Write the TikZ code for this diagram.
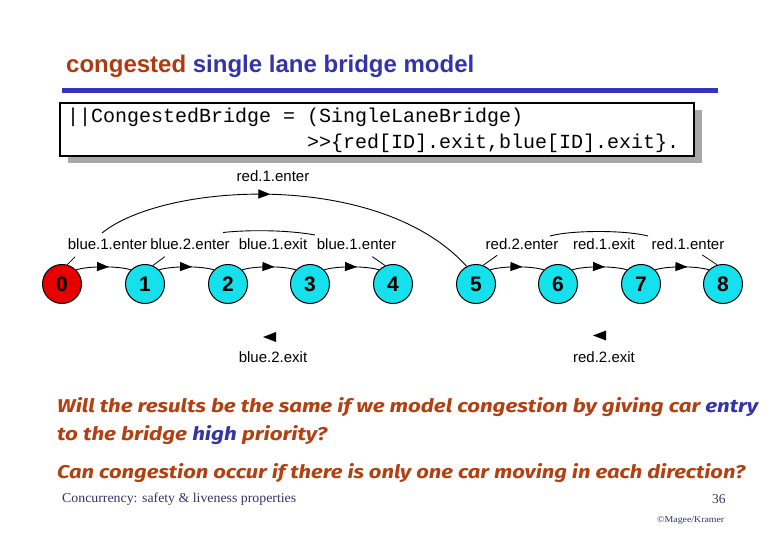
\documentclass[tikz,border=0pt]{standalone}
\usepackage{fontspec}
\usepackage{graphicx}
\setmainfont{Liberation Serif}
\newfontfamily\sansf{Liberation Sans}
\newfontfamily\monof{Liberation Mono}
\newfontfamily\comicf{Fira Sans}
\usetikzlibrary{arrows.meta,decorations.markings}
\definecolor{tred}{RGB}{176,58,16}
\definecolor{tblue}{RGB}{51,51,170}
\definecolor{lineblue}{RGB}{51,51,190}
\definecolor{qred}{RGB}{178,64,16}
\definecolor{foot}{RGB}{51,51,102}
\definecolor{stcyan}{RGB}{20,225,235}
\definecolor{stred}{RGB}{232,0,0}
\definecolor{shadowgray}{RGB}{168,168,168}
\begin{document}
\begin{tikzpicture}[x=1pt,y=-1pt,
  state/.style={circle, draw, line width=1pt, minimum size=39pt, inner sep=0pt, fill=stcyan,
    font=\sansf\bfseries\fontsize{21}{21}\selectfont},
  lbl/.style={font=\sansf\fontsize{15}{18}\selectfont, inner sep=0pt},
  trans/.style={line width=0.9pt, postaction={decorate},
    decoration={markings, mark=at position #1 with {\arrow{Triangle[length=12pt,width=9pt]}}}},
  trans/.default=0.6,
  leader/.style={line width=0.8pt},
  question/.style={font=\comicf\bfseries\itshape\fontsize{18.5}{22}\selectfont, text=qred, inner sep=0pt, anchor=base west},
  footer/.style={font=\fontsize{13.5}{16}\selectfont, text=foot, inner sep=0pt, anchor=base west}
]
\useasboundingbox (0,0) rectangle (780,540);

% title
\node[anchor=base west, inner sep=0pt, font=\sansf\bfseries\fontsize{24}{28}\selectfont] (title) at (66,73)
  {\textcolor{tred}{congested} \textcolor{tblue}{single lane bridge model}};
\fill[lineblue] (62,88) rectangle (718,93);

% code box
\fill[shadowgray] (68,110) rectangle (702,163);
\draw[line width=2pt, fill=white] (60,103) rectangle (694,156);
\node[anchor=base west, inner sep=0pt, font=\monof\fontsize{20}{24}\selectfont] (code1) at (67,123)
  {||CongestedBridge = (SingleLaneBridge)};
\node[anchor=base west, inner sep=0pt, font=\monof\fontsize{20}{24}\selectfont] (code2) at (307,149)
  {>>\{red[ID].exit,blue[ID].exit\}.};

% states
\node[state, fill=stred] (n0) at (62,284) {0};
\node[state] (n1) at (145,284) {1};
\node[state] (n2) at (228,284) {2};
\node[state] (n3) at (310,284) {3};
\node[state] (n4) at (393,284) {4};
\node[state] (n5) at (476,284) {5};
\node[state] (n6) at (558,284) {6};
\node[state] (n7) at (641,284) {7};
\node[state] (n8) at (723,284) {8};

% transitions between neighbours
\foreach \a/\b in {n0/n1,n1/n2,n2/n3,n3/n4,n5/n6,n6/n7,n7/n8}
  \draw[trans] (\a.45) .. controls +(12,-4) and +(-12,-4) .. (\b.135);

% big arc red.1.enter
\coordinate (arcstart) at (102,233);
\draw[trans=0.45] (arcstart) .. controls (165,182) and (380,170) .. (n5.118);

% arc fragments
\coordinate (f1a) at (223,232.5);
\coordinate (f1b) at (315,235);
\draw[line width=0.9pt] (f1a) .. controls (245,230) and (285,229.5) .. (f1b);
\coordinate (f2a) at (550,236);
\coordinate (f2b) at (648,236);
\draw[line width=0.9pt] (f2a) .. controls (572,230) and (625,230) .. (f2b);

% labels
\node[lbl] (l01) at (107.5,244) {blue.1.enter};
\node[lbl] (l12) at (190,244) {blue.2.enter};
\node[lbl] (l23) at (273,244) {blue.1.exit};
\node[lbl] (l34) at (356.5,244) {blue.1.enter};
\node[lbl] (l56) at (522,244) {red.2.enter};
\node[lbl] (l67) at (604,244) {red.1.exit};
\node[lbl] (l78) at (688,244) {red.1.enter};
\node[lbl] (ltop) at (273,176) {red.1.enter};
\node[lbl] (lb1) at (273,357) {blue.2.exit};
\node[lbl] (lb2) at (604,357) {red.2.exit};

% leader lines
\draw[leader] (n0.75) -- ++(8,-8);
\draw[leader] (n1.67) -- ++(12,-9);
\draw[leader] (n4.113) -- ++(-13,-9);
\draw[leader] (n5.69) -- ++(14,-10);
\draw[leader] (n8.107) -- ++(-15,-10);

% lone arrowheads
\fill (263,337) -- (276,332) -- (276,342) -- cycle;
\fill (593,335.5) -- (606,330.5) -- (606,340.5) -- cycle;

% questions
\node[question] (q1) at (57,413) {\resizebox{701pt}{\height}{Will the results be the same if we model congestion by giving car \textcolor{tblue}{entry}}};
\node[question] (q2) at (57,440) {\resizebox{270pt}{\height}{to the bridge \textcolor{tblue}{high} priority?}};
\node[question] (q3) at (57,478) {\resizebox{688pt}{\height}{Can congestion occur if there is only one car moving in each direction?}};

% footer
\node[footer] (f1) at (62,502) {\resizebox{234pt}{\height}{Concurrency: safety \& liveness properties}};
\node[footer] (f2) at (712,503) {36};
\node[footer, font=\fontsize{9}{11}\selectfont] (f3) at (657,522) {\resizebox{67pt}{\height}{\textcopyright Magee/Kramer}};
\end{tikzpicture}
\end{document}
